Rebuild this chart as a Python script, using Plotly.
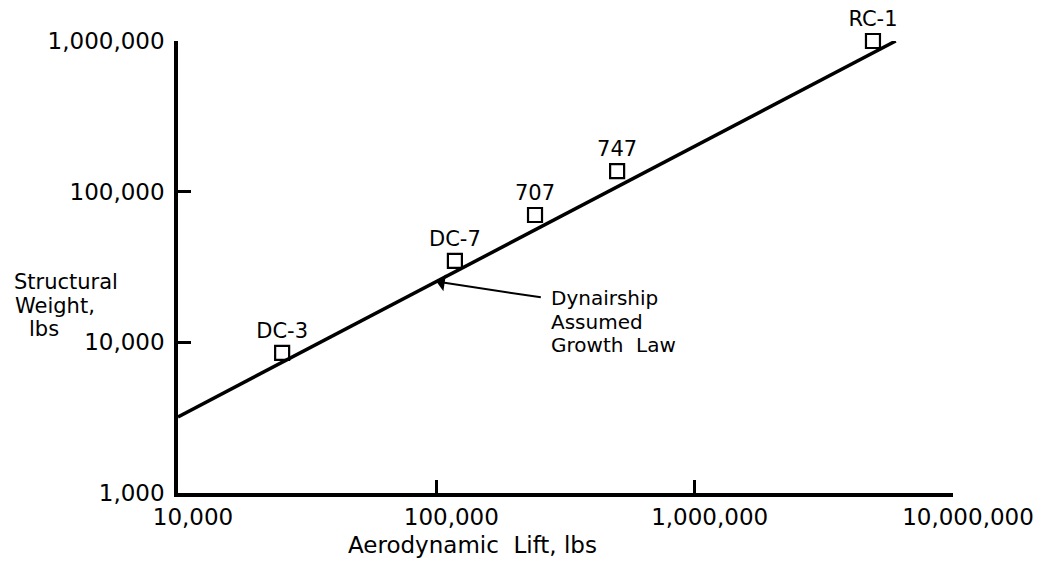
import numpy as np
import plotly.graph_objects as go

# ---- data ----
aircraft = ["DC-3", "DC-7", "707", "747", "RC-1"]
lift_lbs = [25300, 118000, 241000, 501000, 4900000]
weight_lbs = [8500, 34700, 70000, 137000, 1000000]

law_lift = [10000, 6000000]
law_weight = [3200, 1000000]

x_tickvals = [1e4, 1e5, 1e6, 1e7]
x_ticktext = ["10,000", "100,000", "1,000,000", "10,000,000"]
y_tickvals = [1e3, 1e4, 1e5, 1e6]
y_ticktext = ["1,000", "10,000", "100,000", "1,000,000"]

# ---- layout geometry (page body has an 8px margin) ----
OFF = 8
W, H = 1054 - OFF, 562 - OFF
L, R, T, B = 178 - OFF, 101, 41 - OFF, 69
PW, PH = W - L - R, H - T - B
FONT = "DejaVu Sans"
NB = "\u00a0"


def px_to_paper(px, py):
    """page pixel -> paper coords"""
    return (px - OFF - L) / PW, (H - B - (py - OFF)) / PH


fig = go.Figure()

fig.add_trace(go.Scatter(
    x=law_lift, y=law_weight, mode="lines",
    line=dict(color="black", width=3.5), showlegend=False, hoverinfo="skip",
    cliponaxis=False,
))

fig.add_trace(go.Scatter(
    x=lift_lbs, y=weight_lbs, mode="markers+text",
    text=aircraft, textposition="top center",
    textfont=dict(family=FONT, size=21, color="black"),
    marker=dict(symbol="square-open", size=14, color="black", line=dict(width=2.2)),
    cliponaxis=False, showlegend=False,
))

# arrow tip on the growth law at 100,000 lbs
tip_x = 5.0
tip_y = float(np.interp(tip_x, np.log10(law_lift), np.log10(law_weight)))

annotations = [
    dict(x=tip_x, y=tip_y, xref="x", yref="y", text="", showarrow=True,
         arrowhead=1, arrowsize=1.4, arrowwidth=2, arrowcolor="black",
         ax=106, ay=16, axref="pixel", ayref="pixel"),
]


def add_text(px, py, text, size, anchor="left"):
    tx, ty = px_to_paper(px, py)
    annotations.append(dict(
        x=tx, y=ty, xref="paper", yref="paper", xanchor=anchor, yanchor="middle",
        text=text, showarrow=False, font=dict(family=FONT, size=size, color="black"),
    ))


add_text(549, 298, "Dynairship", 20)
add_text(549, 322, "Assumed", 20)
add_text(549, 345, "Growth" + NB + NB + "Law", 20)

add_text(472, 545, "Aerodynamic" + NB + NB + "Lift," + NB + "lbs", 23, anchor="center")

add_text(12, 282, "Structural", 21)
add_text(13, 306, "Weight,", 21)
add_text(27, 329, "lbs", 21)

axis_common = dict(
    type="log", showgrid=False, zeroline=False, showline=True,
    linecolor="black", linewidth=3.5, ticks="inside", ticklen=13,
    tickwidth=2.5, tickcolor="black", automargin=False,
    tickfont=dict(family=FONT, size=23, color="black"),
)

fig.update_layout(
    template="none",
    width=W, height=H,
    margin=dict(l=L, r=R, t=T, b=B, pad=0),
    paper_bgcolor="white", plot_bgcolor="white",
    xaxis=dict(range=[4, 7], tickvals=x_tickvals, ticktext=x_ticktext,
               ticklabelshift=15, ticklabelstandoff=1, **axis_common),
    yaxis=dict(range=[3, 6], tickvals=y_tickvals, ticktext=y_ticktext,
               ticklabelstandoff=5, **axis_common),
    annotations=annotations,
)

fig.write_html("out.html")
